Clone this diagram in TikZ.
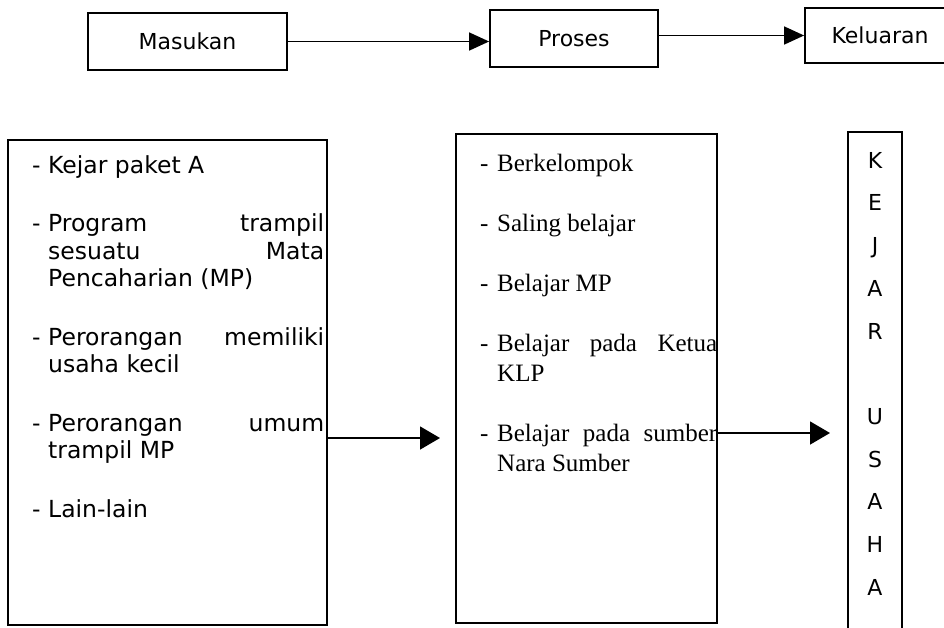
\documentclass[tikz,border=0pt]{standalone}
\usepackage{fontspec}
\setmainfont{Liberation Serif}
\newfontfamily\dvs{DejaVu Sans}
\newfontfamily\lser{Liberation Serif}
\usetikzlibrary{arrows.meta}
\tikzset{
 box/.style={draw, line width=1.8pt, rectangle, inner sep=0pt},
 lbl/.style={font=\dvs\fontsize{22}{26}\selectfont},
 arr/.style={line width=1.5pt, -{Triangle[length=20pt,width=18pt]}},
 arrb/.style={line width=1.5pt, -{Triangle[length=20pt,width=23pt]}},
 ltxt/.style={anchor=north west, inner sep=0pt, align=justify},
}
\newcommand\ditem[2]{\hangindent=#1\hangafter=1\noindent\makebox[#1][l]{-}#2\par}
\begin{document}
\begin{tikzpicture}[x=1pt,y=-1pt]
\useasboundingbox (0,0) rectangle (944,627);
\fill[white] (0,0) rectangle (944,627);
\clip (0,0) rectangle (944,627);
% top row
\node[box, lbl, minimum width=199pt, minimum height=57pt] (mas) at (187.5,41.5) {Masukan};
\node[box, lbl, minimum width=168pt, minimum height=57pt] (pro) at (574,38.5) {Proses};
\node[box, lbl, minimum width=150pt, minimum height=55pt] (kel) at (880,35.5) {Keluaran};
\draw[arr] (mas.east) -- (mas.east -| pro.west);
\draw[arr] (kel.west -| pro.east) -- (kel.west);
% big boxes
\node[box, minimum width=319pt, minimum height=485pt] (L) at (167.5,382.5) {};
\node[box, minimum width=261pt, minimum height=489pt] (M) at (586.5,378.5) {};
\node[box, minimum width=54pt, minimum height=508pt] (R) at (875,386) {};
% texts
\node[ltxt, text width=292pt, font=\dvs\fontsize{23.5}{27.5}\selectfont] (Ltext) at (32,155) {\setlength\parskip{31pt}%
\ditem{16pt}{Kejar paket A}
\ditem{16pt}{Program\hfill trampil\break sesuatu\hfill Mata\break Pencaharian (MP)}
\ditem{16pt}{Perorangan\hfill memiliki\break usaha kecil}
\ditem{16pt}{Perorangan\hfill umum\break trampil MP}
\ditem{16pt}{Lain-lain}};
\node[ltxt, text width=237pt, font=\lser\fontsize{25}{30}\selectfont] (Mtext) at (480,154) {\setlength\parskip{30pt}%
\ditem{17pt}{Berkelompok}
\ditem{17pt}{Saling belajar}
\ditem{17pt}{Belajar MP}
\ditem{17pt}{Belajar\hfill pada\hfill Ketua\break KLP}
\ditem{17pt}{Belajar\hfill pada\hfill sumber\break Nara Sumber}};
\node[anchor=north, inner sep=0pt, align=center, font=\dvs\fontsize{22}{42.7}\selectfont] (Rtext) at (875,152) {K\\E\\J\\A\\R\\\mbox{}\\U\\S\\A\\H\\A};
% bottom arrows
\coordinate (tA) at (440,438);
\draw[arrb] (L.east |- tA) -- (tA);
\coordinate (tB) at (830,433);
\draw[arrb] (M.east |- tB) -- (tB);
\end{tikzpicture}
\end{document}
